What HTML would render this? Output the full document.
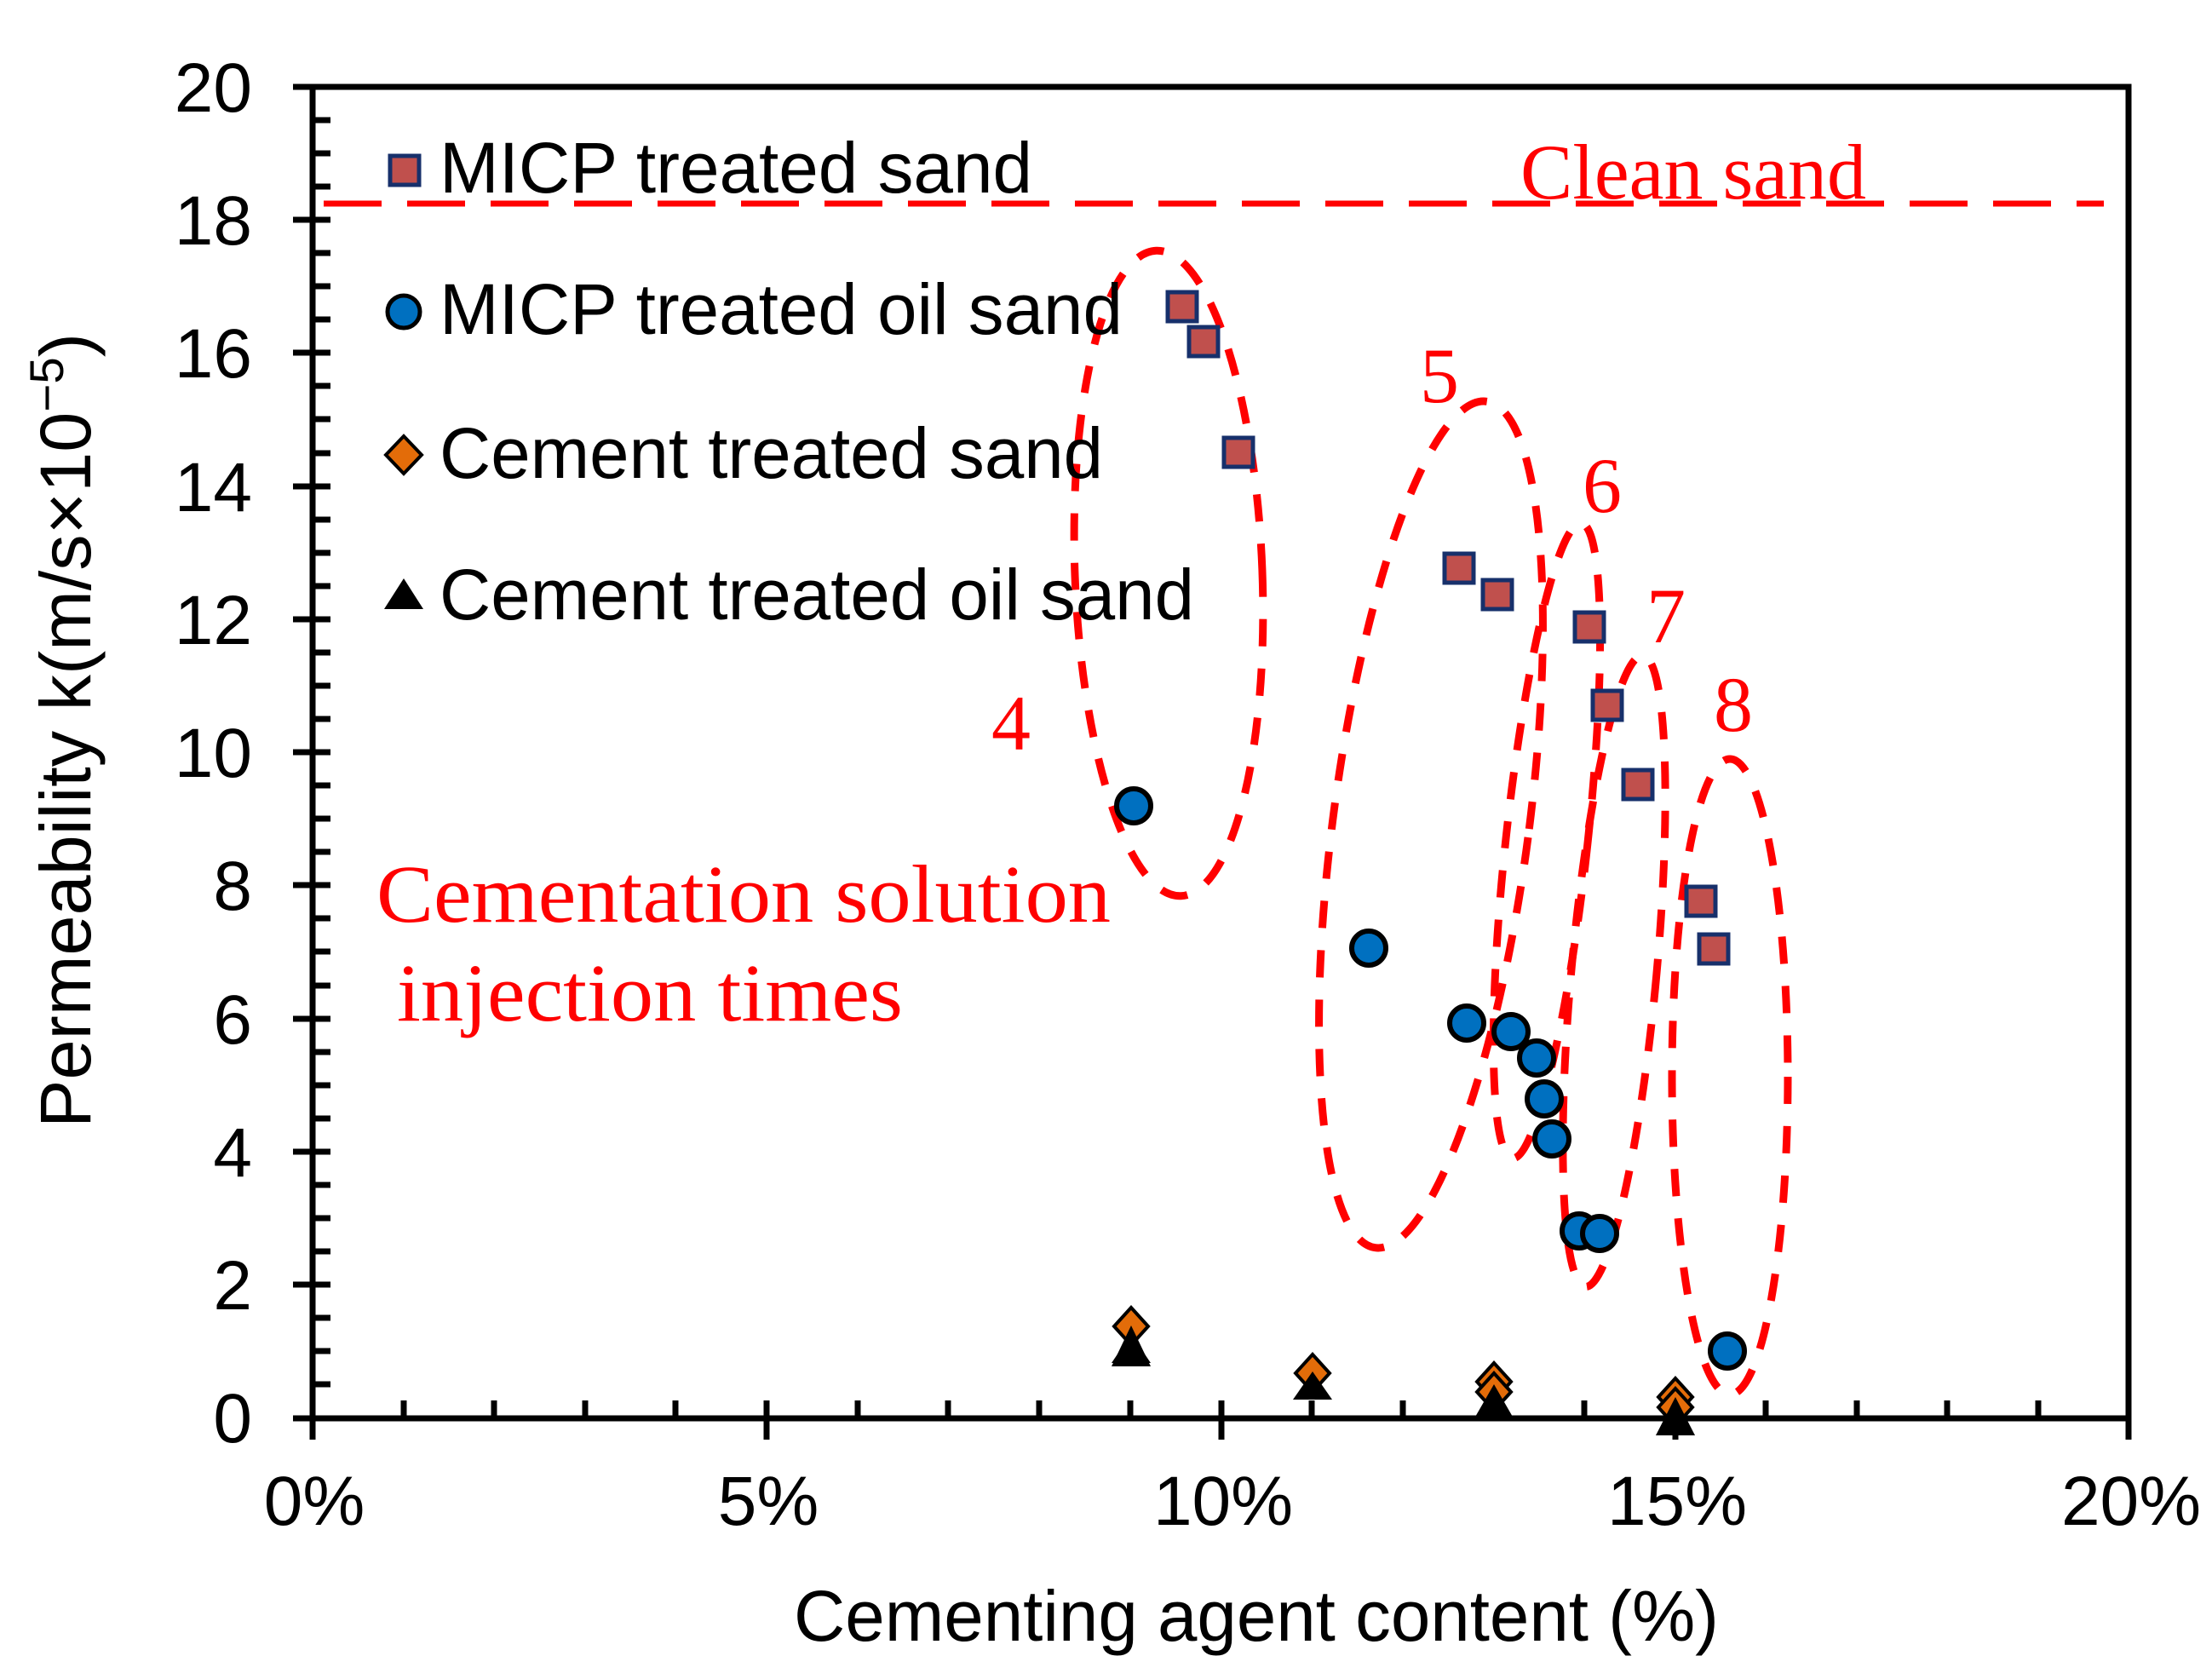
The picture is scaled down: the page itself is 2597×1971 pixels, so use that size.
<!DOCTYPE html>
<html><head><meta charset="utf-8"><style>html,body{margin:0;padding:0;background:#fff}svg{display:block}</style></head>
<body>
<svg width="2597" height="1971" viewBox="0 0 2597 1971" xmlns="http://www.w3.org/2000/svg">
<rect width="2597" height="1971" fill="#fff"/>
<rect x="367" y="102" width="2132" height="1563" fill="none" stroke="#000" stroke-width="7"/>
<g stroke="#000" stroke-width="7">
<line x1="344" y1="102" x2="388" y2="102"/><line x1="344" y1="258" x2="388" y2="258"/><line x1="344" y1="414" x2="388" y2="414"/><line x1="344" y1="571" x2="388" y2="571"/><line x1="344" y1="727" x2="388" y2="727"/><line x1="344" y1="883" x2="388" y2="883"/><line x1="344" y1="1039" x2="388" y2="1039"/><line x1="344" y1="1196" x2="388" y2="1196"/><line x1="344" y1="1352" x2="388" y2="1352"/><line x1="344" y1="1508" x2="388" y2="1508"/><line x1="344" y1="1665" x2="367" y2="1665"/>
<line x1="367" y1="141" x2="388" y2="141"/><line x1="367" y1="180" x2="388" y2="180"/><line x1="367" y1="219" x2="388" y2="219"/>
<line x1="367" y1="297" x2="388" y2="297"/><line x1="367" y1="336" x2="388" y2="336"/><line x1="367" y1="375" x2="388" y2="375"/>
<line x1="367" y1="453" x2="388" y2="453"/><line x1="367" y1="492" x2="388" y2="492"/><line x1="367" y1="532" x2="388" y2="532"/>
<line x1="367" y1="610" x2="388" y2="610"/><line x1="367" y1="649" x2="388" y2="649"/><line x1="367" y1="688" x2="388" y2="688"/>
<line x1="367" y1="766" x2="388" y2="766"/><line x1="367" y1="805" x2="388" y2="805"/><line x1="367" y1="844" x2="388" y2="844"/>
<line x1="367" y1="922" x2="388" y2="922"/><line x1="367" y1="961" x2="388" y2="961"/><line x1="367" y1="1000" x2="388" y2="1000"/>
<line x1="367" y1="1078" x2="388" y2="1078"/><line x1="367" y1="1117" x2="388" y2="1117"/><line x1="367" y1="1157" x2="388" y2="1157"/>
<line x1="367" y1="1235" x2="388" y2="1235"/><line x1="367" y1="1274" x2="388" y2="1274"/><line x1="367" y1="1313" x2="388" y2="1313"/>
<line x1="367" y1="1391" x2="388" y2="1391"/><line x1="367" y1="1430" x2="388" y2="1430"/><line x1="367" y1="1469" x2="388" y2="1469"/>
<line x1="367" y1="1547" x2="388" y2="1547"/><line x1="367" y1="1586" x2="388" y2="1586"/><line x1="367" y1="1625" x2="388" y2="1625"/>
<line x1="367" y1="1665" x2="367" y2="1690"/><line x1="900" y1="1644" x2="900" y2="1690"/><line x1="1434" y1="1644" x2="1434" y2="1690"/><line x1="1967" y1="1644" x2="1967" y2="1690"/><line x1="2499" y1="1665" x2="2499" y2="1690"/>
<line x1="474" y1="1644" x2="474" y2="1665"/><line x1="580" y1="1644" x2="580" y2="1665"/><line x1="687" y1="1644" x2="687" y2="1665"/><line x1="793" y1="1644" x2="793" y2="1665"/>
<line x1="1007" y1="1644" x2="1007" y2="1665"/><line x1="1113" y1="1644" x2="1113" y2="1665"/><line x1="1220" y1="1644" x2="1220" y2="1665"/><line x1="1327" y1="1644" x2="1327" y2="1665"/>
<line x1="1540" y1="1644" x2="1540" y2="1665"/><line x1="1647" y1="1644" x2="1647" y2="1665"/><line x1="1753" y1="1644" x2="1753" y2="1665"/><line x1="1860" y1="1644" x2="1860" y2="1665"/>
<line x1="2073" y1="1644" x2="2073" y2="1665"/><line x1="2180" y1="1644" x2="2180" y2="1665"/><line x1="2286" y1="1644" x2="2286" y2="1665"/><line x1="2393" y1="1644" x2="2393" y2="1665"/>
</g>
<g font-family="Liberation Sans, Arial, sans-serif" font-size="82" fill="#000" text-anchor="end">
<text x="296" y="131">20</text><text x="296" y="287">18</text><text x="296" y="443">16</text><text x="296" y="600">14</text><text x="296" y="756">12</text><text x="296" y="912">10</text><text x="296" y="1068">8</text><text x="296" y="1225">6</text><text x="296" y="1381">4</text><text x="296" y="1537">2</text><text x="296" y="1693">0</text>
</g>
<g font-family="Liberation Sans, Arial, sans-serif" font-size="82" fill="#000" text-anchor="middle">
<text x="369" y="1790">0%</text><text x="902" y="1790">5%</text><text x="1436" y="1790">10%</text><text x="1969" y="1790">15%</text><text x="2502" y="1790">20%</text>
</g>
<text x="932" y="1926" font-family="Liberation Sans, Arial, sans-serif" font-size="84" textLength="1086" lengthAdjust="spacingAndGlyphs">Cementing agent content (%)</text>
<text transform="translate(106,1324) rotate(-90)" font-family="Liberation Sans, Arial, sans-serif" font-size="84" textLength="933" lengthAdjust="spacingAndGlyphs">Permeability k(m/s×10<tspan font-size="56" dy="-32">−5</tspan><tspan dy="32">)</tspan></text>
<line x1="380" y1="239" x2="2470" y2="239" stroke="#ff0000" stroke-width="7" stroke-dasharray="68 30"/>
<g fill="none" stroke="#ff0000" stroke-width="9" stroke-dasharray="32 26">
<ellipse cx="1372" cy="673" rx="110" ry="379" transform="rotate(-2.2 1372 673)"/>
<ellipse cx="1680" cy="968" rx="115" ry="501" transform="rotate(7.5 1680 968)"/>
<ellipse cx="1816" cy="987" rx="48" ry="375" transform="rotate(6.2 1816 987)"/>
<ellipse cx="1895" cy="1140" rx="50" ry="372" transform="rotate(5.2 1895 1140)"/>
<ellipse cx="2031" cy="1264" rx="68" ry="373"/>
</g>
<g font-family="Liberation Serif, Times New Roman, serif" fill="#ff0000" font-size="92">
<text x="1785" y="233" textLength="406" lengthAdjust="spacingAndGlyphs">Clean sand</text>
<text x="1187" y="880" text-anchor="middle">4</text>
<text x="1690" y="472" text-anchor="middle">5</text>
<text x="1881" y="601" text-anchor="middle">6</text>
<text x="1956" y="754" text-anchor="middle">7</text>
<text x="2035" y="858" text-anchor="middle">8</text>
<text x="442" y="1082" font-size="96" textLength="862" lengthAdjust="spacingAndGlyphs">Cementation solution</text>
<text x="466" y="1198" font-size="96" textLength="594" lengthAdjust="spacingAndGlyphs">injection times</text>
</g>
<g font-family="Liberation Sans, Arial, sans-serif" font-size="84" fill="#000" lengthAdjust="spacingAndGlyphs">
<text x="516" y="226" textLength="696" lengthAdjust="spacingAndGlyphs">MICP treated sand</text>
<text x="516" y="392" textLength="802" lengthAdjust="spacingAndGlyphs">MICP treated oil sand</text>
<text x="516" y="561" textLength="779" lengthAdjust="spacingAndGlyphs">Cement treated sand</text>
<text x="516" y="727" textLength="886" lengthAdjust="spacingAndGlyphs">Cement treated oil sand</text>
</g>
<rect x="458" y="183" width="34" height="34" fill="#c0504d" stroke="#17306b" stroke-width="5"/>
<circle cx="474" cy="366" r="19" fill="#0070c0" stroke="#000" stroke-width="5"/>
<polygon points="474,512 495,534 474,556 453,534" fill="#e36c09" stroke="#000" stroke-width="4"/>
<polygon points="474,679 497,715 451,715" fill="#000"/>
<g fill="#c0504d" stroke="#17306b" stroke-width="5">
<rect x="1371" y="343" width="34" height="34"/><rect x="1396" y="384" width="34" height="34"/><rect x="1437" y="514" width="34" height="34"/>
<rect x="1696" y="650" width="34" height="34"/><rect x="1741" y="681" width="34" height="34"/><rect x="1849" y="719" width="34" height="34"/>
<rect x="1870" y="811" width="34" height="34"/><rect x="1906" y="904" width="34" height="34"/><rect x="1980" y="1041" width="34" height="34"/><rect x="1995" y="1097" width="34" height="34"/>
</g>
<g fill="#0070c0" stroke="#000" stroke-width="6">
<circle cx="1331" cy="946" r="20"/><circle cx="1607" cy="1113" r="20"/><circle cx="1722" cy="1201" r="20"/><circle cx="1774" cy="1211" r="20"/>
<circle cx="1804" cy="1242" r="20"/><circle cx="1813" cy="1290" r="20"/><circle cx="1822" cy="1337" r="20"/><circle cx="1854" cy="1445" r="20"/><circle cx="1878" cy="1448" r="20"/><circle cx="2028" cy="1586" r="20"/>
</g>
<g fill="#e36c09" stroke="#000" stroke-width="4">
<polygon points="1328,1535 1348,1557 1328,1579 1308,1557"/>
<polygon points="1541,1590 1561,1612 1541,1634 1521,1612"/>
<polygon points="1754,1600 1774,1622 1754,1644 1734,1622"/>
<polygon points="1754,1612 1774,1634 1754,1656 1734,1634"/>
<polygon points="1967,1618 1987,1640 1967,1662 1947,1640"/>
<polygon points="1967,1630 1987,1652 1967,1674 1947,1652"/>
</g>
<g fill="#000">
<polygon points="1328,1556 1351,1604 1305,1604"/><polygon points="1328,1566 1351,1600 1305,1600"/>
<polygon points="1541,1610 1564,1643 1518,1643"/>
<polygon points="1754,1625 1777,1665 1731,1665"/><polygon points="1754,1635 1777,1665 1731,1665"/><polygon points="1754,1645 1777,1665 1731,1665"/>
<polygon points="1967,1640 1990,1685 1944,1685"/><polygon points="1967,1655 1990,1685 1944,1685"/>
</g>
</svg>
</body></html>
